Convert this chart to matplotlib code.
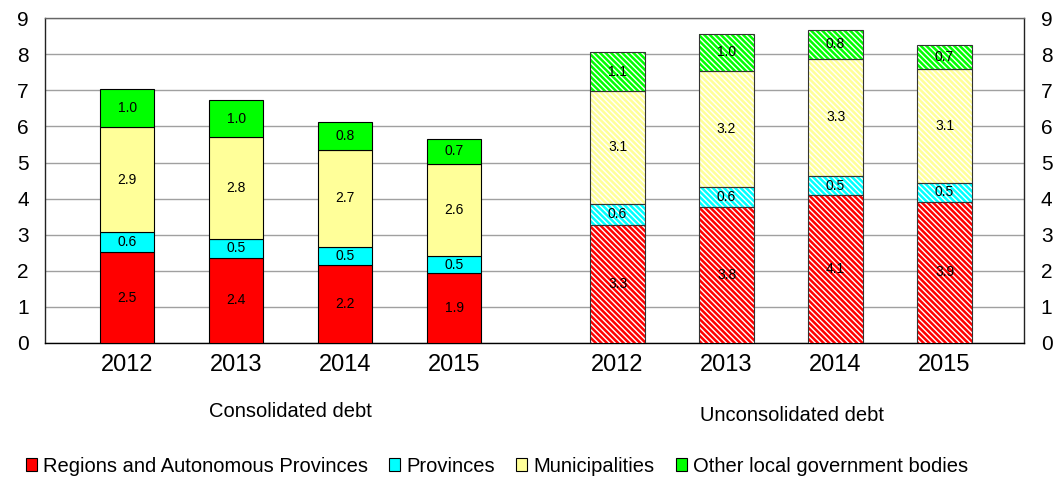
import numpy as np
import matplotlib
matplotlib.use("Agg")
import matplotlib.pyplot as plt
from matplotlib.transforms import blended_transform_factory

plt.rcParams['font.family'] = ['Liberation Sans', 'DejaVu Sans']
plt.rcParams['hatch.linewidth'] = 1.0

years = ['2012', '2013', '2014', '2015']
groups = ['Consolidated debt', 'Unconsolidated debt']
series = ['Regions and Autonomous Provinces', 'Provinces', 'Municipalities',
          'Other local government bodies']
colors = ['#FF0000', '#00FFFF', '#FFFF99', '#00FF00']

# consolidated debt, % of GDP
cons_regions = [2.51, 2.36, 2.17, 1.93]
cons_provinces = [0.56, 0.52, 0.50, 0.48]
cons_municip = [2.92, 2.84, 2.67, 2.56]
cons_other = [1.04, 1.00, 0.77, 0.68]

# unconsolidated debt, % of GDP
uncons_regions = [3.28, 3.76, 4.09, 3.92]
uncons_provinces = [0.57, 0.56, 0.53, 0.52]
uncons_municip = [3.14, 3.22, 3.26, 3.14]
uncons_other = [1.06, 1.02, 0.80, 0.68]

cons = [cons_regions, cons_provinces, cons_municip, cons_other]
uncons = [uncons_regions, uncons_provinces, uncons_municip, uncons_other]

x1 = np.arange(len(years))
x2 = x1 + len(years) + 0.5
width = 0.5

fig = plt.figure(figsize=(10.62, 4.79), dpi=100)
ax = fig.add_axes([0.0428, 0.284, 0.9215, 0.678])

handles = []
bottom = np.zeros(len(years))
for vals, c, name in zip(cons, colors, series):
    r = ax.bar(x1, vals, width, bottom=bottom, color=c, edgecolor='black',
               linewidth=0.8, label=name, zorder=3)
    ax.bar_label(r, labels=['%.1f' % v for v in vals], label_type='center',
                 fontsize=10)
    handles.append(r)
    bottom += np.array(vals)

# hatched bars: white stripes first, then a dark outline on top
bottom = np.zeros(len(years))
for vals, c in zip(uncons, colors):
    ax.bar(x2, vals, width, bottom=bottom, color=c, edgecolor='white',
           hatch='\\' * 6, linewidth=0, zorder=3)
    r = ax.bar(x2, vals, width, bottom=bottom, fill=False, edgecolor='#333333',
               linewidth=0.8, zorder=4)
    ax.bar_label(r, labels=['%.1f' % v for v in vals], label_type='center',
                 fontsize=10)
    bottom += np.array(vals)

ax.set_xlim(-0.75, 8.23)
ax.set_ylim(0, 9)
ax.set_yticks(range(0, 10))
ax.set_xticks(np.concatenate([x1, x2]))
ax.set_xticklabels(years + years)
ax.tick_params(axis='x', length=0, pad=8, labelsize=17)
ax.tick_params(axis='y', length=0, labelsize=15, labelright=True, pad=12)
ax.grid(axis='y', color='#A0A0A0', linewidth=1, zorder=0)
ax.set_axisbelow(True)

ax.spines['top'].set_color('#666666')
ax.spines['left'].set_color('#222222')
ax.spines['right'].set_color('#222222')
ax.spines['bottom'].set_color('black')
for s in ax.spines.values():
    s.set_linewidth(1)

trans = blended_transform_factory(ax.transData, ax.transAxes)
ax.text(x1.mean(), -0.21, groups[0], transform=trans, ha='center', va='center',
        fontsize=14.5)
ax.text(x2.mean() + 0.1, -0.222, groups[1], transform=trans, ha='center',
        va='center', fontsize=14.5)

fig.legend(handles=handles, loc='center', bbox_to_anchor=(0.468, 0.027), ncol=4,
           frameon=False, fontsize=14.5, handlelength=0.55, handleheight=0.55,
           handletextpad=0.3, columnspacing=1.05)

fig.savefig('out.png', dpi=100)
